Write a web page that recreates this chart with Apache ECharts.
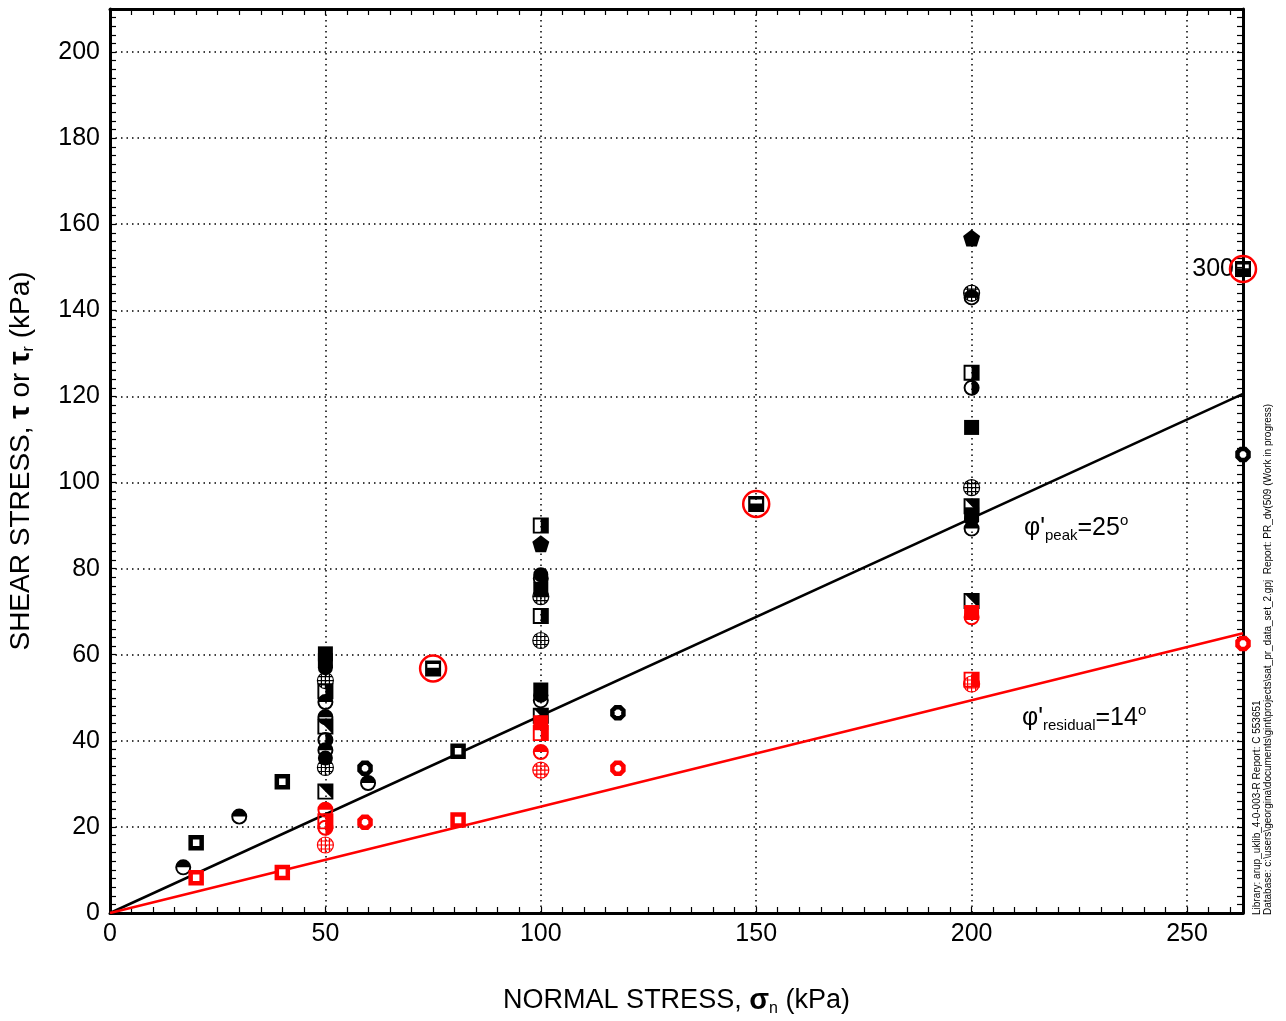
<!DOCTYPE html>
<html>
<head>
<meta charset="utf-8">
<script src="https://cdn.jsdelivr.net/npm/echarts@6/dist/echarts.min.js"></script>
<style>
  html, body { margin: 0; padding: 0; background: #fff; }
  #chart { width: 1286px; height: 1021px; }
</style>
</head>
<body>
<div id="chart"></div>
<script>
// tick labels
const xTickLabels = [0, 50, 100, 150, 200, 250]
const yTickLabels = [0, 20, 40, 60, 80, 100, 120, 140, 160, 180, 200]

// fitted envelopes (peak 25deg, residual 14deg)
const peakLine = [[0, 0], [263, 120.6]]
const residualLine = [[0, 0], [263, 65]]

// black (peak) points, grouped by marker
const sqOpenK = [[20, 16.3], [40, 30.5], [80.8, 37.6]]
const halfTopK = [[17, 10.6], [30, 22.4], [59.9, 30.2], [50, 49], [50, 37.8], [100, 49.4], [200, 89.3], [200, 143], [50, 45.5]]
const halfSideK = [[100, 77.7], [200, 122], [50, 40.2]]
const pentK = [[100, 85.8], [200, 156.8]]
const globeK = [[50, 54], [50, 33.8], [100, 63.3], [200, 98.8], [200, 144], [100, 73.5]]
const octK = [[59.2, 33.6], [117.9, 46.5], [263, 106.5]]
const sqHalfK = [[100, 90], [200, 125.5], [50, 51.5], [100, 69]]
const sqDiagK = [[50, 28.2], [50, 43.3], [100, 45.8], [200, 72.5], [200, 94.5]]
const sqFillK = [[50, 60.2], [50, 58.6], [200, 112.8], [100, 75.2], [200, 92.5], [100, 51.8]]
const circFillK = [[50, 36], [50, 57], [100, 50.6], [200, 91.5], [100, 78.6]]
const sqStripeK = [[75, 56.8], [150, 95], [263, 149.6]]

// red (residual) points
const sqOpenR = [[20, 8.2], [40, 9.4], [80.8, 21.6]]
const halfTopR = [[50, 24], [100, 37.4], [200, 68.7]]
const halfSideR = [[50, 19.8]]
const globeR = [[50, 15.8], [100, 33.2], [200, 53.2]]
const octR = [[59.2, 21.1], [117.9, 33.6], [263, 62.6]]
const sqHalfR = [[50, 21.3], [100, 41.8], [200, 54.2]]
const sqFillR = [[100, 44.2], [200, 69.8]]

// circled points and the off-scale label
const circled = [[75, 56.8], [150, 95], [263, 149.6]]
const offScaleLabel = '300'

const FONT = '"Liberation Sans", Arial, sans-serif'
const RED = '#ff0000'

const SYM = {
  halfTop: 'path://M0,50A50,50 0 0 1 100,50Z M0,50A50,50 0 0 0 100,50L88,50A38,38 0 0 1 12,50Z',
  halfSide: 'path://M50,0A50,50 0 0 1 50,100Z M50,0A50,50 0 0 0 50,100L50,88A38,38 0 0 1 50,12Z',
  pent: 'path://M50,0L100,37L81,96L19,96L0,37Z',
  globe: 'path://M0,50A50,50 0 0 1 100,50A50,50 0 0 1 0,50Z M50,0L50,100 M0,50L100,50 M7,25L93,25 M7,75L93,75 M25,7L25,93 M75,7L75,93',
  oct: 'path://M29,0L71,0L100,29L100,71L71,100L29,100L0,71L0,29Z',
  sqHalf: 'path://M0,0L100,0L100,100L0,100Z M12,12L12,88L50,88L50,12Z',
  sqDiag: 'path://M0,0L100,0L100,100L0,100Z M12,12L12,88L88,88Z',
  sqStripe: 'path://M0,0L100,0L100,100L0,100Z M14,22L14,46L86,46L86,22Z'
}

const pts = (name, data, symbol, size, itemStyle, z) => ({
  name, type: 'scatter', data, symbol, symbolSize: size,
  itemStyle: { opacity: 1, ...itemStyle }, z: z || 3, silent: true
})

const fill = (c) => ({ color: c })
const ring = (c) => ({ color: '#fff', borderColor: c, borderWidth: 4.5 })
const wire = (c) => ({ color: 'rgba(0,0,0,0)', borderColor: c, borderWidth: 1.2 })

const tickFmt = (list) => (v) => list.includes(Math.round(v * 1000) / 1000) ? String(v) : ''

const chart = echarts.init(document.getElementById('chart'))

const axisLineStyle = { color: '#000', width: 3 }
const tickStyle = { color: '#000', width: 1.2 }
const dotted = { color: '#000', width: 1.5, type: [1.5, 4] }
const nameRich = (size) => ({
  b: { fontSize: size + 2, fontWeight: 'bold', color: '#000', fontFamily: FONT, lineHeight: 32 },
  s: { fontSize: 16, color: '#000', fontFamily: FONT, lineHeight: 16, verticalAlign: 'bottom' }
})

chart.setOption({
  animation: false,
  backgroundColor: '#fff',
  textStyle: { fontFamily: FONT },
  grid: { left: 110, right: 43, top: 9, bottom: 108, outerBoundsMode: 'none', containLabel: false },
  xAxis: [
    {
      type: 'value', position: 'bottom', min: 0, max: 263, interval: 5,
      axisLine: { onZero: false, lineStyle: axisLineStyle },
      axisTick: { inside: true, length: 6, lineStyle: tickStyle },
      axisLabel: { formatter: tickFmt(xTickLabels), fontSize: 25, color: '#000', margin: 9, fontFamily: FONT, showMaxLabel: false },
      splitLine: { show: false },
      name: 'NORMAL STRESS, {b|σ}{s|n} (kPa)',
      nameLocation: 'middle', nameGap: 72,
      nameTextStyle: { fontSize: 27, color: '#000', fontFamily: FONT, lineHeight: 32, rich: nameRich(27) }
    },
    {
      type: 'value', position: 'top', min: 0, max: 263, interval: 5,
      axisLine: { onZero: false, lineStyle: axisLineStyle },
      axisTick: { inside: true, length: 6, lineStyle: tickStyle },
      axisLabel: { show: false },
      splitLine: { show: false }
    },
    {
      type: 'value', position: 'bottom', min: 0, max: 263, interval: 50,
      axisLine: { show: false }, axisTick: { show: false }, axisLabel: { show: false },
      splitLine: { show: true, lineStyle: dotted }
    }
  ],
  yAxis: [
    {
      type: 'value', position: 'left', min: 0, max: 210, interval: 2,
      axisLine: { onZero: false, lineStyle: axisLineStyle },
      axisTick: { inside: true, length: 6, lineStyle: tickStyle },
      axisLabel: { formatter: tickFmt(yTickLabels), fontSize: 25, color: '#000', margin: 10, fontFamily: FONT, showMaxLabel: false },
      splitLine: { show: false },
      name: 'SHEAR STRESS, {b|τ} or {b|τ}{s|r} (kPa)',
      nameLocation: 'middle', nameGap: 73,
      nameTextStyle: { fontSize: 28, color: '#000', fontFamily: FONT, lineHeight: 32, rich: nameRich(28) }
    },
    {
      type: 'value', position: 'right', min: 0, max: 210, interval: 2,
      axisLine: { onZero: false, lineStyle: axisLineStyle },
      axisTick: { inside: true, length: 6, lineStyle: tickStyle },
      axisLabel: { show: false },
      splitLine: { show: false }
    },
    {
      type: 'value', position: 'left', min: 0, max: 210, interval: 20,
      axisLine: { show: false }, axisTick: { show: false }, axisLabel: { show: false },
      splitLine: { show: true, lineStyle: dotted }
    }
  ],
  series: [
    { name: 'peak', type: 'line', data: peakLine, symbol: 'none', lineStyle: { color: '#000', width: 2.5 }, z: 2, silent: true },
    { name: 'residual', type: 'line', data: residualLine, symbol: 'none', lineStyle: { color: RED, width: 2.5 }, z: 2, silent: true },

    pts('sqOpenK', sqOpenK, 'rect', 11, ring('#000')),
    pts('octK', octK, SYM.oct, 11, ring('#000')),
    pts('globeK', globeK, SYM.globe, 16, wire('#000')),
    pts('sqFillK', sqFillK, 'rect', 15, fill('#000')),
    pts('circFillK', circFillK, 'circle', 15, fill('#000')),
    pts('sqDiagK', sqDiagK, SYM.sqDiag, 16, fill('#000')),
    pts('sqHalfK', sqHalfK, SYM.sqHalf, 16, fill('#000')),
    pts('halfTopK', halfTopK, SYM.halfTop, 16, fill('#000')),
    pts('halfSideK', halfSideK, SYM.halfSide, 16, fill('#000')),
    pts('pentK', pentK, SYM.pent, 17, fill('#000')),
    pts('sqStripeK', sqStripeK.map((p, i) => i === sqStripeK.length - 1
      ? { value: p, label: { show: true, formatter: offScaleLabel, position: 'left', distance: 1, fontSize: 25, color: '#000', opacity: 1, fontFamily: FONT } }
      : p), SYM.sqStripe, 16, fill('#000')),

    pts('sqOpenR', sqOpenR, 'rect', 11, ring(RED)),
    pts('octR', octR, SYM.oct, 11, ring(RED)),
    pts('globeR', globeR, SYM.globe, 16, wire(RED)),
    pts('sqFillR', sqFillR, 'rect', 15, fill(RED)),
    pts('sqHalfR', sqHalfR, SYM.sqHalf, 16, fill(RED)),
    pts('halfTopR', halfTopR, SYM.halfTop, 16, fill(RED)),
    pts('halfSideR', halfSideR, SYM.halfSide, 16, fill(RED)),

    pts('circled', circled, 'circle', 26, { color: 'rgba(0,0,0,0)', borderColor: RED, borderWidth: 2.5 }, 4)
  ],
  graphic: [
    {
      type: 'text', x: 1024, y: 528, z: 10,
      style: {
        text: '{a|φ\'}{s|peak}{a|=25}{p|o}',
        verticalAlign: 'middle', align: 'left',
        rich: {
          a: { fontSize: 25, fontFamily: FONT, fill: '#000', lineHeight: 30 },
          s: { fontSize: 15, fontFamily: FONT, fill: '#000', lineHeight: 15, verticalAlign: 'bottom' },
          p: { fontSize: 15, fontFamily: FONT, fill: '#000', lineHeight: 15, verticalAlign: 'top' }
        }
      }
    },
    {
      type: 'text', x: 1022, y: 718, z: 10,
      style: {
        text: '{a|φ\'}{s|residual}{a|=14}{p|o}',
        verticalAlign: 'middle', align: 'left',
        rich: {
          a: { fontSize: 25, fontFamily: FONT, fill: '#000', lineHeight: 30 },
          s: { fontSize: 15, fontFamily: FONT, fill: '#000', lineHeight: 15, verticalAlign: 'bottom' },
          p: { fontSize: 15, fontFamily: FONT, fill: '#000', lineHeight: 15, verticalAlign: 'top' }
        }
      }
    },
    {
      type: 'text', x: 1257, y: 915, rotation: Math.PI / 2, z: 10,
      style: {
        text: 'Library: arup_uklib_4-0-003-R Report: C 553651',
        font: '10px ' + FONT, fill: '#000', align: 'left', verticalAlign: 'middle'
      }
    },
    {
      type: 'text', x: 1268, y: 915, rotation: Math.PI / 2, z: 10,
      style: {
        text: 'Database: c:\\users\\georgina\\documents\\gint\\projects\\sat_pr_data_set_2.gpj  Report: PR_dv(509 (Work in progress)',
        font: '10px ' + FONT, fill: '#000', align: 'left', verticalAlign: 'middle'
      }
    }
  ]
})

window.addEventListener('resize', () => chart.resize())
</script>
</body>
</html>
